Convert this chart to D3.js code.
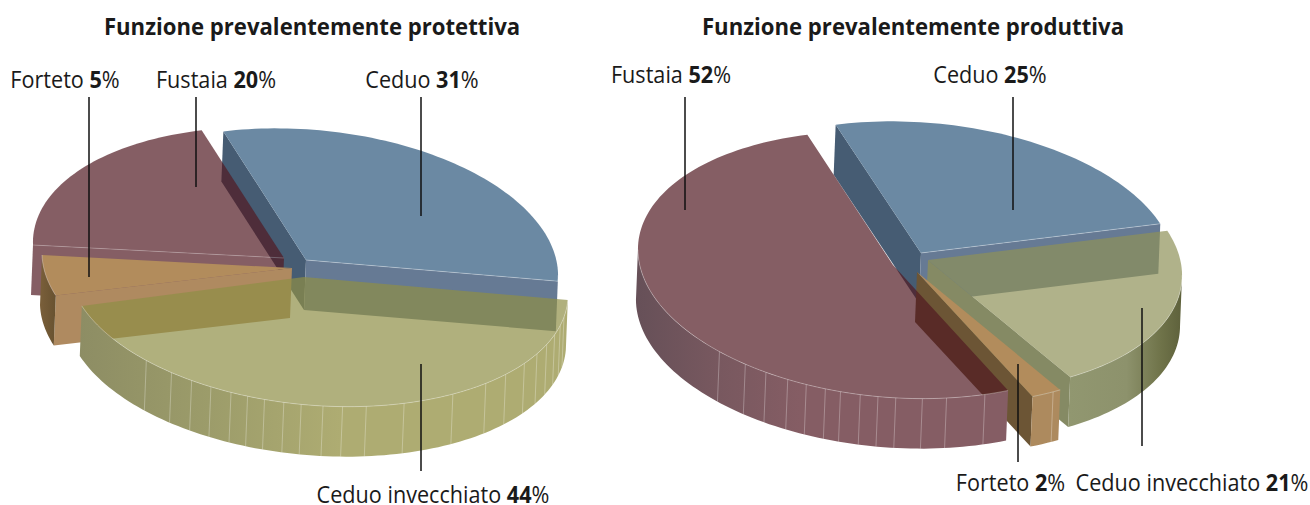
<!DOCTYPE html>
<html>
<head>
<meta charset="utf-8">
<script src="https://cdn.jsdelivr.net/npm/d3@7"></script>
<style>
  html, body { margin: 0; padding: 0; background: #fff; }
  svg { display: block; }
  text { font-family: "Open Sans", sans-serif; fill: #1a1a1a; }
</style>
</head>
<body>
<div id="wrapper"></div>
<script>
// Data
const titles = ["Funzione prevalentemente protettiva", "Funzione prevalentemente produttiva"];
const categories = ["Ceduo", "Ceduo invecchiato", "Forteto", "Fustaia"];
const protettivaValues = [31, 44, 5, 20];
const produttivaValues = [25, 21, 2, 52];

// Seams on the curved walls, in degrees clockwise from 12 o'clock
const protettivaSeams = [101.5, 105.5, 110, 115, 120, 125.5, 132.5, 139, 148.5, 161, 170, 175.5, 180, 185, 189, 193.5, 197.5, 201.5, 206.5, 211.5, 217, 224.5];
const produttivaSeams = [160, 169, 174.5, 180.5, 184.5, 188.5, 193, 196.5, 201, 205.5, 211, 216.5, 224];
const fortetoSeams = [149];

const width = 1310, height = 505;
const depth = [-2, 50];
const skew = { s: 5, t: 13 };

const svg = d3.select("#wrapper").append("svg").attr("width", width).attr("height", height);
const defs = svg.append("defs");

function wallGradient(id, x1, x2, stops) {
    const g = defs.append("linearGradient").attr("id", id)
        .attr("gradientUnits", "userSpaceOnUse")
        .attr("x1", x1).attr("x2", x2).attr("y1", 0).attr("y2", 0);
    stops.forEach(([o, c]) => g.append("stop").attr("offset", o).attr("stop-color", c));
    return `url(#${id})`;
}

const oliveWallL = wallGradient("oliveL", 78, 340, [[0, "#8d8d64"], [0.5, "#9c9c6a"], [1, "#aeac72"]]);
const fortetoWallL = wallGradient("fortetoL", 40, 58, [[0, "#7a5f3a"], [1, "#65502f"]]);
const oliveWallR = wallGradient("oliveR", 1069, 1184, [[0, "#919770"], [0.5, "#8d926c"], [0.8, "#6f7349"], [1, "#5c5f3a"]]);
const fustaiaWallR = wallGradient("fustaiaR", 636, 800, [[0, "#665058"], [0.5, "#78585f"], [1, "#855d64"]]);

// Slice layout: tip of the wedge, ellipse centre, radii, colours and which walls show
const protettivaLayout = {
    startAngle: -18,
    drawOrder: ["Ceduo", "Fustaia", "Forteto", "Ceduo invecchiato"],
    slices: {
        "Ceduo": { tip: [306, 260], centre: [306, 260], rx: 252, ry: 131, face: "#6b89a3",
            startWall: "#465c73", endWall: "#667a94", outerWall: "#667a94", endEdge: true },
        "Ceduo invecchiato": { tip: [304, 277], centre: [318, 279], rx: 250, ry: 127, face: "#8e8e46", faceOpacity: 0.7,
            outerWall: oliveWallL, seams: protettivaSeams },
        "Forteto": { tip: [292, 268], centre: [292, 268], rx: 250, ry: 129, face: "#b28c5c",
            startWall: "#af8a60", outerWall: fortetoWallL },
        "Fustaia": { tip: [284, 258], centre: [284, 258], rx: 251, ry: 130, face: "#511922", faceOpacity: 0.7,
            startWall: "#511922", startWallOpacity: 0.7, startEdge: true }
    }
};
const produttivaLayout = {
    startAngle: -18.5,
    drawOrder: ["Ceduo", "Ceduo invecchiato", "Forteto", "Fustaia"],
    slices: {
        "Ceduo": { tip: [921, 253], centre: [921, 253], rx: 254, ry: 131, face: "#6b89a3",
            startWall: "#465c73", endWall: "#667a94", endEdge: true },
        "Ceduo invecchiato": { tip: [928, 260], centre: [928, 260], rx: 254, ry: 131, face: "#8e9158", faceOpacity: 0.7,
            endWall: "#858a64", outerWall: oliveWallR },
        "Forteto": { tip: [917, 272], centre: [917, 272], rx: 256, ry: 132, face: "#b28c5c",
            endWall: "#6c5535", outerWall: "#ad8a5e", seams: fortetoSeams },
        "Fustaia": { tip: [893, 265], centre: [893, 265], rx: 255, ry: 133, face: "#511922", faceOpacity: 0.7,
            outerWall: fustaiaWallR, seams: produttivaSeams }
    }
};

const lineGenerator = d3.line();
const rad = Math.PI / 180;

function onEllipse(c, a, drop = 0) {
    return [
        c.centre[0] + c.rx * Math.sin(a) - skew.s * Math.cos(a) + depth[0] * drop,
        c.centre[1] - c.ry * Math.cos(a) + skew.t * Math.sin(a) + depth[1] * drop
    ];
}
function tipOf(c, drop = 0) {
    return [c.tip[0] + depth[0] * drop, c.tip[1] + depth[1] * drop];
}
function arcPoints(c, a0, a1, drop = 0) {
    const n = Math.max(2, Math.ceil(Math.abs(a1 - a0) / (rad * 1.5)));
    return d3.range(n + 1).map(i => onEllipse(c, a0 + (a1 - a0) * i / n, drop));
}

function drawPie(values, layout) {
    const pie = d3.pie().sort(null).value(d => d.value)
        .startAngle(layout.startAngle * rad)
        .endAngle((layout.startAngle + 360) * rad);
    const arcs = pie(categories.map((name, i) => ({ name, value: values[i] })));
    const group = svg.append("g");

    layout.drawOrder.forEach(name => {
        const arc = arcs.find(d => d.data.name === name);
        const c = layout.slices[name];
        const g = group.append("g");

        // cut walls facing the viewer
        const cutWall = (a, fill, fo) => g.append("path")
            .attr("d", lineGenerator([tipOf(c), onEllipse(c, a), onEllipse(c, a, 1), tipOf(c, 1)]) + "Z")
            .attr("fill", fill).attr("fill-opacity", fo || 1);
        if (c.startWall) cutWall(arc.startAngle, c.startWall, c.startWallOpacity);
        if (c.endWall) cutWall(arc.endAngle, c.endWall);

        // outer curved wall, front half only
        const a0 = Math.max(arc.startAngle, 91 * rad), a1 = Math.min(arc.endAngle, 271 * rad);
        if (c.outerWall && a1 > a0) {
            const top = arcPoints(c, a0, a1), bottom = arcPoints(c, a0, a1, 1).reverse();
            g.append("path").attr("d", lineGenerator(top.concat(bottom)) + "Z").attr("fill", c.outerWall);
            (c.seams || []).forEach(deg => {
                g.append("path").attr("d", lineGenerator([onEllipse(c, deg * rad), onEllipse(c, deg * rad, 1)]))
                    .attr("stroke", "#fff").attr("stroke-opacity", 0.32).attr("stroke-width", 0.9).attr("fill", "none");
            });
        }

        // top face
        g.append("path")
            .attr("d", lineGenerator([tipOf(c)].concat(arcPoints(c, arc.startAngle, arc.endAngle))) + "Z")
            .attr("fill", c.face).attr("fill-opacity", c.faceOpacity || 1);

        // light rim along the front of the top face
        if (c.outerWall && a1 > a0) {
            g.append("path").attr("d", lineGenerator(arcPoints(c, a0, a1)))
                .attr("fill", "none").attr("stroke", "#fff").attr("stroke-opacity", 0.35).attr("stroke-width", 0.9);
        }
        if (c.endEdge) g.append("path").attr("d", lineGenerator([tipOf(c), onEllipse(c, arc.endAngle)]))
            .attr("fill", "none").attr("stroke", "#fff").attr("stroke-opacity", 0.35).attr("stroke-width", 0.9);
        if (c.startEdge) g.append("path").attr("d", lineGenerator([tipOf(c), onEllipse(c, arc.startAngle)]))
            .attr("fill", "none").attr("stroke", "#fff").attr("stroke-opacity", 0.25).attr("stroke-width", 0.9);
    });
}

drawPie(protettivaValues, protettivaLayout);
drawPie(produttivaValues, produttivaLayout);

// Titles
const titleX = [312, 913];
svg.selectAll("text.title").data(titles).join("text").attr("class", "title")
    .attr("transform", (d, i) => `translate(${titleX[i]},35) scale(0.963,1)`)
    .attr("text-anchor", "middle").attr("font-size", 23).attr("font-weight", 700)
    .text(d => d);

// Labels and leader lines
const labelPlaces = [
    { values: protettivaValues, name: "Forteto", x: 65, y: 88, line: [89, 97, 277] },
    { values: protettivaValues, name: "Fustaia", x: 216, y: 88, line: [196, 97, 187] },
    { values: protettivaValues, name: "Ceduo", x: 422, y: 88, line: [421, 97, 216] },
    { values: protettivaValues, name: "Ceduo invecchiato", x: 433, y: 503, line: [421, 364, 471] },
    { values: produttivaValues, name: "Fustaia", x: 671, y: 83, line: [685, 97, 210] },
    { values: produttivaValues, name: "Ceduo", x: 990, y: 83, line: [1013, 97, 210] },
    { values: produttivaValues, name: "Forteto", x: 1010.5, y: 491, line: [1018, 364, 462] },
    { values: produttivaValues, name: "Ceduo invecchiato", x: 1192, y: 491, line: [1142, 308, 446] }
];
labelPlaces.forEach(p => {
    svg.append("line").attr("x1", p.line[0]).attr("x2", p.line[0]).attr("y1", p.line[1]).attr("y2", p.line[2])
        .attr("stroke", "#111").attr("stroke-width", 1.5);
    const t = svg.append("text")
        .attr("transform", `translate(${p.x},${p.y}) scale(0.94,1)`)
        .attr("text-anchor", "middle").attr("font-size", 23);
    const v = p.values[categories.indexOf(p.name)];
    t.append("tspan").text(p.name + " ");
    t.append("tspan").attr("font-weight", 700).text(v);
    t.append("tspan").text("%");
});
</script>
</body>
</html>
